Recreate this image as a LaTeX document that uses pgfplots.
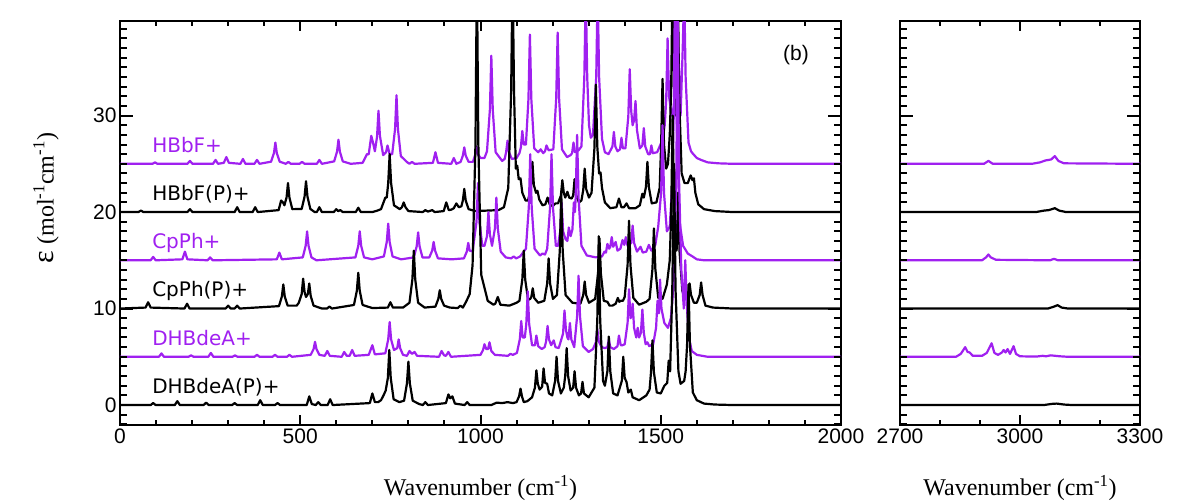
\documentclass[border=0pt]{standalone}
\usepackage{fontspec}
\setmainfont{Liberation Sans}
\newfontfamily\serif{Liberation Serif}
\newfontfamily\dv{DejaVu Sans}
\usepackage{pgfplots}
\usepackage{pgfplotstable}
\pgfplotsset{compat=1.18}
\definecolor{purp}{RGB}{160,32,240}

% spectra, absorbance relative to each trace's own baseline
\pgfplotstableread[row sep=\\]{x e\\
0 0\\ 90 0\\ 97 .15\\ 104 0\\ 187 0\\ 194 .3\\ 201 0\\ 258 0\\ 265 .4\\ 272 0\\ 288 .1\\ 295 .7\\ 302 .1\\ 334 0\\ 341 .5\\ 348 0\\ 373 0\\ 380 .4\\ 387 0\\ 419 .22\\ 427 1.1\\ 431 2.2\\ 435 1.1\\ 443 .22\\ 460 0\\ 467 .2\\ 474 0\\ 498 0\\ 505 .2\\ 512 0\\ 546 0\\ 553 .4\\ 560 0\\ 594 .25\\ 602 1.25\\ 606 2.5\\ 610 1.25\\ 618 .25\\ 640 0\\ 673 .1\\ 685 1\\ 690 1\\ 697 2.9\\ 703 2\\ 707 1.3\\ 713 2.8\\ 717 5.5\\ 721 2.9\\ 730 .9\\ 738 1.2\\ 742 1.9\\ 748 1\\ 755 1\\ 763 3.6\\ 767 7.1\\ 771 3.6\\ 779 .8\\ 797 .15\\ 803 0\\ 810 .2\\ 817 0\\ 868 .1\\ 875 1.2\\ 882 .1\\ 919 0\\ 926 .6\\ 933 0\\ 945 .2\\ 951 .85\\ 955 1.7\\ 959 .85\\ 967 .2\\ 979 .2\\ 985 .9\\ 989 1.8\\ 993 1\\ 1000 .6\\ 1011 .6\\ 1018 1.3\\ 1026 5.6\\ 1030 11.2\\ 1034 5.6\\ 1042 1.2\\ 1060 .3\\ 1067 .5\\ 1071 1.2\\ 1075 2.4\\ 1079 1.2\\ 1087 .5\\ 1100 .6\\ 1108 1.1\\ 1112 1.7\\ 1116 3.4\\ 1120 2\\ 1126 2\\ 1133 6.7\\ 1137 13.4\\ 1141 6.7\\ 1149 1.6\\ 1160 1.2\\ 1167 1.5\\ 1174 1.1\\ 1179 1.3\\ 1183 1.9\\ 1189 1.4\\ 1202 1.5\\ 1210 6.8\\ 1214 13.6\\ 1218 6.8\\ 1226 1.5\\ 1240 .7\\ 1250 .9\\ 1254 1.1\\ 1258 2.2\\ 1262 1.2\\ 1272 1.4\\ 1280 1.8\\ 1288 9\\ 1292 18\\ 1296 9\\ 1301 4\\ 1306 2.7\\ 1312 3\\ 1321 9\\ 1325 18\\ 1329 9\\ 1337 2.6\\ 1345 1.2\\ 1355 1\\ 1362 1.5\\ 1366 1.8\\ 1370 3.3\\ 1374 1.8\\ 1380 1.3\\ 1387 1.5\\ 1391 2.7\\ 1395 1.6\\ 1402 1.6\\ 1410 4.9\\ 1414 9.8\\ 1418 5.5\\ 1422 4\\ 1426 4.5\\ 1430 6.5\\ 1434 3.5\\ 1442 1.6\\ 1449 1.9\\ 1453 3.7\\ 1457 1.8\\ 1465 1\\ 1470 1\\ 1474 1.9\\ 1478 1.1\\ 1490 1.2\\ 1505 2.5\\ 1511 4\\ 1515 6.5\\ 1519 13\\ 1523 7\\ 1530 5\\ 1537 6\\ 1541 12\\ 1545 18\\ 1549 12\\ 1555 5\\ 1561 12\\ 1565 18\\ 1569 9\\ 1577 2.2\\ 1584 1.3\\ 1588 1.1\\ 1600 .6\\ 1612 .4\\ 1630 .15\\ 1660 .05\\ 1700 0\\ 2000 0\\
}\tHBbF

\pgfplotstableread[row sep=\\]{x e\\
0 0\\ 51 0\\ 58 .15\\ 65 0\\ 187 0\\ 194 .3\\ 201 0\\ 318 0\\ 325 .5\\ 332 0\\ 368 0\\ 375 .5\\ 382 0\\ 440 .2\\ 447 1.2\\ 452 1\\ 456 .7\\ 462 1.5\\ 466 3\\ 470 1.5\\ 478 .3\\ 504 .32\\ 512 1.6\\ 516 3.2\\ 520 1.6\\ 528 .32\\ 540 0\\ 546 0\\ 553 .5\\ 560 0\\ 593 0\\ 600 .3\\ 605 .1\\ 611 .2\\ 618 0\\ 654 0\\ 661 .45\\ 668 0\\ 700 0\\ 714 .15\\ 724 .3\\ 731 1\\ 736 1.5\\ 740 1.5\\ 744 3\\ 748 6\\ 752 3\\ 760 .7\\ 776 .3\\ 782 .5\\ 787 1\\ 792 .5\\ 800 .1\\ 840 0\\ 847 .2\\ 854 .05\\ 866 .2\\ 873 0\\ 898 .1\\ 905 1\\ 912 .2\\ 919 .25\\ 926 .4\\ 933 .9\\ 940 .5\\ 947 .6\\ 951 1.2\\ 955 2.4\\ 959 1.2\\ 967 .3\\ 985 .1\\ 1050 .2\\ 1065 .5\\ 1077 2.5\\ 1085 12.5\\ 1089 25\\ 1093 12.5\\ 1098 4.5\\ 1102 4.8\\ 1106 3.4\\ 1111 3.5\\ 1116 2\\ 1125 1.2\\ 1132 1.2\\ 1140 2.6\\ 1144 5.2\\ 1148 2.8\\ 1154 2\\ 1158 2.2\\ 1163 1.3\\ 1172 .7\\ 1180 .8\\ 1186 1.5\\ 1192 .8\\ 1200 .6\\ 1208 .9\\ 1215 .9\\ 1223 1.7\\ 1227 3.3\\ 1231 2\\ 1235 1.5\\ 1241 2.1\\ 1246 1.5\\ 1253 1.4\\ 1257 1.7\\ 1261 3.4\\ 1265 1.8\\ 1273 1\\ 1280 1.2\\ 1285 2.3\\ 1289 4.5\\ 1293 2.4\\ 1301 1.5\\ 1308 2\\ 1316 6.6\\ 1320 13.2\\ 1324 6.8\\ 1329 4\\ 1333 4.1\\ 1337 2.5\\ 1345 1\\ 1360 .4\\ 1377 .5\\ 1384 1.4\\ 1391 .5\\ 1398 .5\\ 1405 .9\\ 1412 .4\\ 1430 .4\\ 1442 .7\\ 1449 1.9\\ 1453 1.5\\ 1459 2.6\\ 1463 5.2\\ 1467 2.6\\ 1475 .9\\ 1488 1\\ 1497 2.5\\ 1501 6.9\\ 1505 13.8\\ 1509 7\\ 1515 4.5\\ 1520 5\\ 1525 8\\ 1529 13\\ 1533 25\\ 1537 13\\ 1540 10\\ 1543 13\\ 1547 25\\ 1551 12\\ 1558 4\\ 1566 3\\ 1575 3\\ 1583 3.8\\ 1588 3.3\\ 1592 3.5\\ 1596 2\\ 1604 .8\\ 1620 .3\\ 1650 .1\\ 1700 0\\ 2000 0\\
}\tHBbFP

\pgfplotstableread[row sep=\\]{x e\\
0 0\\ 85 0\\ 92 .35\\ 99 0\\ 173 .1\\ 180 .9\\ 187 .1\\ 243 0\\ 250 .3\\ 257 0\\ 435 .1\\ 442 .8\\ 449 .1\\ 507 .3\\ 515 1.5\\ 519 3\\ 523 1.5\\ 531 .3\\ 545 0\\ 653 .3\\ 661 1.5\\ 665 3\\ 669 1.5\\ 677 .3\\ 700 .1\\ 732 .4\\ 740 1.9\\ 744 3.8\\ 748 1.9\\ 756 .4\\ 780 .1\\ 815 .3\\ 823 1.45\\ 827 2.9\\ 831 1.45\\ 839 .3\\ 858 .3\\ 866 1\\ 870 1.9\\ 874 1\\ 882 .2\\ 920 .1\\ 954 .2\\ 962 .9\\ 966 1.8\\ 970 1\\ 978 .9\\ 989 4\\ 993 8\\ 997 4\\ 1005 1.5\\ 1011 1.5\\ 1018 2.5\\ 1022 5\\ 1026 2.7\\ 1032 1.5\\ 1040 3.3\\ 1044 6.5\\ 1048 3.3\\ 1056 .9\\ 1070 .3\\ 1085 .2\\ 1092 .4\\ 1099 .2\\ 1110 .4\\ 1126 1.2\\ 1134 5.5\\ 1138 11\\ 1142 5.5\\ 1150 1.2\\ 1165 .5\\ 1172 .7\\ 1179 .6\\ 1185 1.2\\ 1193 5.5\\ 1197 11\\ 1201 5.5\\ 1209 1.5\\ 1215 1.5\\ 1221 3\\ 1225 6\\ 1229 3\\ 1236 2.2\\ 1241 2\\ 1245 3.4\\ 1250 2.5\\ 1255 3.2\\ 1259 6\\ 1262 5\\ 1264 6.5\\ 1268 13\\ 1272 6.5\\ 1280 1.5\\ 1295 .5\\ 1320 .3\\ 1337 .4\\ 1344 .9\\ 1348 .8\\ 1352 1.7\\ 1357 1.2\\ 1360 1.4\\ 1364 2.4\\ 1368 1.4\\ 1375 1.9\\ 1380 1\\ 1388 1.2\\ 1394 2.1\\ 1399 1.6\\ 1403 2.4\\ 1408 1.5\\ 1413 1.6\\ 1418 1.8\\ 1422 3.6\\ 1426 1.8\\ 1434 .9\\ 1444 1.4\\ 1450 .8\\ 1460 .9\\ 1467 1.6\\ 1474 1\\ 1485 1.6\\ 1493 3.5\\ 1501 7\\ 1505 14\\ 1509 7\\ 1517 3\\ 1525 3.5\\ 1532 8\\ 1536 15\\ 1540 30\\ 1544 15\\ 1552 4\\ 1562 1.5\\ 1575 .7\\ 1588 .4\\ 1600 .1\\ 1620 0\\ 2000 0\\
}\tCpPh

\pgfplotstableread[row sep=\\]{x e\\
0 0\\ 71 .1\\ 78 .65\\ 85 .1\\ 179 0\\ 186 .5\\ 193 0\\ 293 0\\ 300 .3\\ 307 0\\ 318 0\\ 325 .3\\ 332 0\\ 441 .25\\ 449 1.25\\ 453 2.5\\ 457 1.25\\ 465 .3\\ 490 .3\\ 496 .6\\ 504 1.5\\ 508 3.1\\ 512 1.7\\ 516 1.2\\ 521 1.5\\ 525 2.6\\ 529 1.3\\ 537 .3\\ 560 0\\ 574 0\\ 581 .2\\ 588 0\\ 649 .37\\ 657 1.85\\ 661 3.7\\ 665 1.85\\ 673 .37\\ 700 .05\\ 743 .1\\ 750 .65\\ 757 .1\\ 785 .1\\ 803 .6\\ 811 3\\ 815 6\\ 819 3\\ 827 .6\\ 845 .1\\ 875 .2\\ 883 1\\ 887 1.9\\ 891 1\\ 899 .3\\ 915 .1\\ 937 .05\\ 944 .3\\ 951 .1\\ 960 .7\\ 970 1.5\\ 978 4.5\\ 986 17\\ 990 35\\ 994 17\\ 1002 3.5\\ 1020 .8\\ 1036 .4\\ 1041 .5\\ 1048 1.2\\ 1055 .4\\ 1080 .3\\ 1100 .6\\ 1108 .8\\ 1116 3\\ 1120 6\\ 1124 3\\ 1132 .9\\ 1138 1\\ 1141 1.2\\ 1145 2.1\\ 1149 1.1\\ 1160 .6\\ 1177 .8\\ 1185 2.6\\ 1189 5.2\\ 1193 2.6\\ 1201 1\\ 1212 1.4\\ 1220 6\\ 1224 12\\ 1228 6\\ 1236 1.4\\ 1255 .6\\ 1277 .5\\ 1285 1.4\\ 1289 2.8\\ 1293 1.4\\ 1301 .6\\ 1318 1\\ 1326 3.6\\ 1330 7.3\\ 1334 3.6\\ 1342 .8\\ 1352 .7\\ 1358 .3\\ 1366 .3\\ 1375 .5\\ 1381 1.1\\ 1385 .7\\ 1389 .8\\ 1395 .8\\ 1400 1.2\\ 1408 4.5\\ 1412 9.1\\ 1416 4.5\\ 1424 1.1\\ 1440 .4\\ 1460 .7\\ 1469 1\\ 1477 4.1\\ 1481 8.3\\ 1485 4.1\\ 1493 1.1\\ 1505 1\\ 1517 2.5\\ 1525 5\\ 1529 10\\ 1533 20\\ 1537 10\\ 1541 8.5\\ 1544 6\\ 1548 12\\ 1552 6\\ 1560 1.8\\ 1568 1.2\\ 1576 1.3\\ 1580 2.6\\ 1584 1.4\\ 1592 .6\\ 1600 .6\\ 1608 1.4\\ 1612 2.7\\ 1616 1.4\\ 1624 .3\\ 1645 .1\\ 1700 0\\ 2000 0\\
}\tCpPhP

\pgfplotstableread[row sep=\\]{x e\\
0 0\\ 108 0\\ 115 .35\\ 122 0\\ 190 0\\ 197 .15\\ 204 0\\ 245 0\\ 252 .4\\ 259 0\\ 312 0\\ 319 .15\\ 326 0\\ 373 0\\ 380 .2\\ 387 0\\ 423 0\\ 430 .2\\ 437 0\\ 463 0\\ 470 .2\\ 477 0\\ 529 .2\\ 537 .8\\ 541 1.55\\ 545 .8\\ 553 .2\\ 568 .1\\ 575 .6\\ 582 .1\\ 615 0\\ 622 .5\\ 629 .1\\ 637 .1\\ 644 .7\\ 651 .1\\ 690 .2\\ 700 1.2\\ 707 .25\\ 736 .36\\ 744 1.8\\ 748 3.6\\ 752 1.8\\ 760 .7\\ 769 .9\\ 773 1.8\\ 777 .9\\ 785 .2\\ 796 .1\\ 803 .6\\ 810 .3\\ 817 .5\\ 824 .1\\ 885 0\\ 892 .6\\ 899 .15\\ 904 .1\\ 911 .5\\ 918 0\\ 1000 .2\\ 1007 .7\\ 1011 1.3\\ 1016 .8\\ 1021 .8\\ 1025 1.5\\ 1030 .6\\ 1040 .2\\ 1076 .1\\ 1083 .3\\ 1090 .2\\ 1101 .4\\ 1109 1.8\\ 1113 3.7\\ 1117 2\\ 1123 2\\ 1127 3.4\\ 1131 6.8\\ 1135 3.4\\ 1143 1.2\\ 1151 1.2\\ 1155 2.2\\ 1160 1.1\\ 1170 .8\\ 1178 1\\ 1182 1.6\\ 1186 3.2\\ 1190 1.8\\ 1196 1.2\\ 1203 1.7\\ 1208 1\\ 1217 .9\\ 1225 1.9\\ 1229 2.4\\ 1233 4.8\\ 1237 2.8\\ 1241 2\\ 1244 1.8\\ 1248 3.5\\ 1252 1.8\\ 1260 1\\ 1268 4.2\\ 1272 8.4\\ 1276 4.2\\ 1284 1.1\\ 1300 .5\\ 1312 .8\\ 1320 1.5\\ 1324 2.9\\ 1328 1.6\\ 1336 1\\ 1345 .9\\ 1352 1\\ 1356 1.8\\ 1360 1\\ 1370 .8\\ 1380 1.1\\ 1384 2.2\\ 1389 1.2\\ 1394 1.2\\ 1400 1.3\\ 1408 3.5\\ 1412 7\\ 1416 4\\ 1419 4.2\\ 1422 5.5\\ 1426 3\\ 1432 2\\ 1436 3\\ 1440 2\\ 1445 2.5\\ 1449 4.9\\ 1453 2.5\\ 1458 1.3\\ 1463 1.5\\ 1468 1.1\\ 1479 1.3\\ 1487 3\\ 1491 5.8\\ 1495 4.5\\ 1498 8\\ 1502 5\\ 1510 3.5\\ 1520 3\\ 1528 4\\ 1535 7\\ 1543 18\\ 1547 36\\ 1551 18\\ 1557 9\\ 1564 5\\ 1568 10\\ 1572 5.5\\ 1578 2\\ 1586 .6\\ 1600 .2\\ 1630 0\\ 2000 0\\
}\tDHB

\pgfplotstableread[row sep=\\]{x e\\
0 0\\ 85 0\\ 92 .2\\ 99 0\\ 152 0\\ 159 .4\\ 166 0\\ 232 0\\ 239 .25\\ 246 0\\ 311 0\\ 318 .2\\ 325 0\\ 382 0\\ 389 .5\\ 396 0\\ 430 0\\ 437 .2\\ 444 0\\ 518 0\\ 525 .9\\ 532 .1\\ 543 0\\ 550 .3\\ 557 0\\ 576 0\\ 583 .6\\ 590 0\\ 693 .2\\ 700 1.2\\ 707 .3\\ 716 .3\\ 724 .5\\ 731 1\\ 737 1.5\\ 743 2.8\\ 747 5.7\\ 751 2.8\\ 759 .6\\ 775 .3\\ 788 .45\\ 796 2.25\\ 800 4.5\\ 804 2.25\\ 812 .45\\ 830 .1\\ 840 0\\ 847 .3\\ 854 0\\ 904 .2\\ 911 1.1\\ 916 .7\\ 922 .9\\ 929 .15\\ 956 0\\ 963 .3\\ 970 0\\ 1030 0\\ 1045 .25\\ 1060 .2\\ 1075 .3\\ 1090 .2\\ 1100 .3\\ 1107 .9\\ 1111 1.7\\ 1115 .9\\ 1120 .3\\ 1125 .35\\ 1130 .4\\ 1143 .8\\ 1151 1.8\\ 1155 3.6\\ 1159 2.2\\ 1164 1.6\\ 1171 1.9\\ 1175 3.8\\ 1179 2.3\\ 1185 2.2\\ 1190 1.2\\ 1199 1\\ 1207 2.5\\ 1211 5\\ 1215 2.5\\ 1223 1.2\\ 1231 1.8\\ 1235 3\\ 1239 5.9\\ 1243 3\\ 1250 1.5\\ 1257 1.8\\ 1261 3.5\\ 1265 1.8\\ 1273 1\\ 1279 1.2\\ 1283 2.4\\ 1287 1.2\\ 1300 .8\\ 1316 1.8\\ 1324 8.8\\ 1328 17.5\\ 1332 8.8\\ 1340 2.5\\ 1345 2\\ 1352 3.5\\ 1356 7.1\\ 1360 3.5\\ 1368 1.2\\ 1380 1\\ 1388 2\\ 1392 2.5\\ 1396 5\\ 1400 2.8\\ 1405 2.4\\ 1410 1.3\\ 1417 1.6\\ 1422 .8\\ 1440 .5\\ 1460 1\\ 1469 1.6\\ 1473 3.4\\ 1477 6.7\\ 1481 3.4\\ 1489 1.3\\ 1500 1.2\\ 1510 2\\ 1518 2.3\\ 1522 4.6\\ 1526 3.5\\ 1532 12\\ 1537 25\\ 1541 12\\ 1549 3.5\\ 1555 2.2\\ 1565 2.5\\ 1569 3.5\\ 1573 6.2\\ 1577 12.5\\ 1581 6.2\\ 1589 1.3\\ 1600 .5\\ 1620 .15\\ 1650 .05\\ 1700 0\\ 2000 0\\
}\tDHBP

% C-H stretch region
\pgfplotstableread[row sep=\\]{x e\\ 2700 0\\ 2910 0\\ 2921 .3\\ 2932 0\\ 3030 0\\ 3050 .15\\ 3064 .35\\ 3078 .45\\ 3087 .8\\ 3096 .3\\ 3110 .05\\ 3300 0\\}\rHBbF
\pgfplotstableread[row sep=\\]{x e\\ 2700 0\\ 3040 0\\ 3060 .15\\ 3072 .2\\ 3087 .4\\ 3098 .15\\ 3115 0\\ 3300 0\\}\rHBbFP
\pgfplotstableread[row sep=\\]{x e\\ 2700 0\\ 2905 0\\ 2915 .3\\ 2921 .6\\ 2927 .3\\ 2940 .05\\ 3075 0\\ 3085 .15\\ 3095 0\\ 3300 0\\}\rCpPh
\pgfplotstableread[row sep=\\]{x e\\ 2700 0\\ 3070 0\\ 3085 .2\\ 3094 .35\\ 3104 .1\\ 3120 0\\ 3300 0\\}\rCpPhP
\pgfplotstableread[row sep=\\]{x e\\ 2700 0\\ 2840 0\\ 2852 .3\\ 2863 1\\ 2869 .5\\ 2874 .45\\ 2882 .1\\ 2905 .1\\ 2917 .4\\ 2929 1.4\\ 2936 .4\\ 2945 .2\\ 2955 .45\\ 2959 .7\\ 2964 .45\\ 2969 .8\\ 2975 .3\\ 2984 1.1\\ 2990 .3\\ 3000 .05\\ 3040 .02\\ 3057 .1\\ 3065 .05\\ 3077 .15\\ 3088 .1\\ 3100 .05\\ 3120 0\\ 3300 0\\}\rDHB
\pgfplotstableread[row sep=\\]{x e\\ 2700 0\\ 3060 0\\ 3080 .12\\ 3092 .15\\ 3110 .05\\ 3130 0\\ 3300 0\\}\rDHBP

\pgfplotsset{
  panel/.style={
    scale only axis, height=404pt,
    ymin=-2.07, ymax=39.8,
    ytick={0,10,20,30},
    major tick length=0pt, minor tick length=0pt,
    axis line style={line width=1.8pt},
    tick label style={font=\fontsize{21}{24}\selectfont},
    /pgf/number format/assume math mode=true,
    /pgf/number format/1000 sep={},
    xlabel={Wavenumber (cm\textsuperscript{-1})},
    xlabel style={font=\serif\fontsize{24}{28}\selectfont,
      at={(axis description cs:0.5,-0.155)}, anchor=center},
  },
  spec/.style={line width=2.2pt, line join=round},
}

\begin{document}
\begin{tikzpicture}
\path (-120pt,-75pt) rectangle (1080pt,425pt);

\begin{axis}[panel, at={(0pt,0pt)}, anchor=south west, width=721pt,
  xmin=0, xmax=2000, xtick={0,500,...,2000},
]
\addplot[spec, purp] table[x=x, y expr=\thisrow{e}+25] {\tHBbF};
\addplot[spec, black] table[x=x, y expr=\thisrow{e}+20] {\tHBbFP};
\addplot[spec, purp] table[x=x, y expr=\thisrow{e}+15] {\tCpPh};
\addplot[spec, black] table[x=x, y expr=\thisrow{e}+10] {\tCpPhP};
\addplot[spec, purp] table[x=x, y expr=\thisrow{e}+5] {\tDHB};
\addplot[spec, black] table[x=x, y expr=\thisrow{e}] {\tDHBP};

\begin{scope}[every node/.style={anchor=base west, inner sep=0pt, font=\dv\fontsize{20}{24}\selectfont}]
\node[text=purp] at (axis cs:89,26.2) {HBbF+};
\node[text=black] at (axis cs:89,21.2) {HBbF(P)+};
\node[text=purp] at (axis cs:89,16.2) {CpPh+};
\node[text=black] at (axis cs:89,11.2) {CpPh(P)+};
\node[text=purp] at (axis cs:89,6.2) {DHBdeA+};
\node[text=black] at (axis cs:89,1.2) {DHBdeA(P)+};
\end{scope}
\node[font=\fontsize{21}{24}\selectfont] at (rel axis cs:0.9376,0.916) {(b)};
\end{axis}

\begin{axis}[panel, at={(780pt,0pt)}, anchor=south west, width=240pt,
  xmin=2700, xmax=3300, xtick={2700,3000,3300},
  yticklabels={},
]
\addplot[spec, purp] table[x=x, y expr=\thisrow{e}+25] {\rHBbF};
\addplot[spec, black] table[x=x, y expr=\thisrow{e}+20] {\rHBbFP};
\addplot[spec, purp] table[x=x, y expr=\thisrow{e}+15] {\rCpPh};
\addplot[spec, black] table[x=x, y expr=\thisrow{e}+10] {\rCpPhP};
\addplot[spec, purp] table[x=x, y expr=\thisrow{e}+5] {\rDHB};
\addplot[spec, black] table[x=x, y expr=\thisrow{e}] {\rDHBP};
\end{axis}

% tick marks, drawn inward on all four sides of both panels
\begin{scope}[line width=2pt, draw=black]
  % y: one unit = 404/41.87 pt, zero sits 2.07 units above the frame bottom
  \begin{scope}[shift={(0pt,19.973pt)}, y=9.6489pt]
    \foreach \v in {-2,...,39} {
      \draw (0,\v) -- ++(7pt,0);
      \draw[xshift=721pt] (0,\v) -- ++(-7pt,0);
      \draw[xshift=780pt] (0,\v) -- ++(7pt,0);
      \draw[xshift=1020pt] (0,\v) -- ++(-7pt,0);
    }
    \foreach \v in {0,10,20,30} {
      \draw (0,\v) -- ++(13pt,0);
      \draw[xshift=721pt] (0,\v) -- ++(-13pt,0);
      \draw[xshift=780pt] (0,\v) -- ++(13pt,0);
      \draw[xshift=1020pt] (0,\v) -- ++(-13pt,0);
    }
  \end{scope}
  % x, left panel: 0.3605 pt per cm^-1
  \begin{scope}[x=0.3605pt]
    \foreach \u in {100,200,...,1900} {
      \draw (\u,0) -- ++(0,5pt);
      \draw[yshift=404pt] (\u,0) -- ++(0,-5pt);
    }
    \foreach \u in {500,1000,1500} {
      \draw (\u,0) -- ++(0,10pt);
      \draw[yshift=404pt] (\u,0) -- ++(0,-10pt);
    }
  \end{scope}
  % x, right panel: 0.4 pt per cm^-1 from 2700
  \begin{scope}[xshift=780pt, x=0.4pt]
    \foreach \u in {100,200,400,500} {
      \draw (\u,0) -- ++(0,5pt);
      \draw[yshift=404pt] (\u,0) -- ++(0,-5pt);
    }
    \draw (300,0) -- ++(0,10pt);
    \draw[yshift=404pt] (300,0) -- ++(0,-10pt);
  \end{scope}
\end{scope}

% y-axis title of the left panel
\node[rotate=90, font=\serif\fontsize{24}{28}\selectfont] at (-74pt,227pt)
  {{\fontsize{30}{30}\selectfont ε} (mol\textsuperscript{-1}cm\textsuperscript{-1})};
\end{tikzpicture}
\end{document}
